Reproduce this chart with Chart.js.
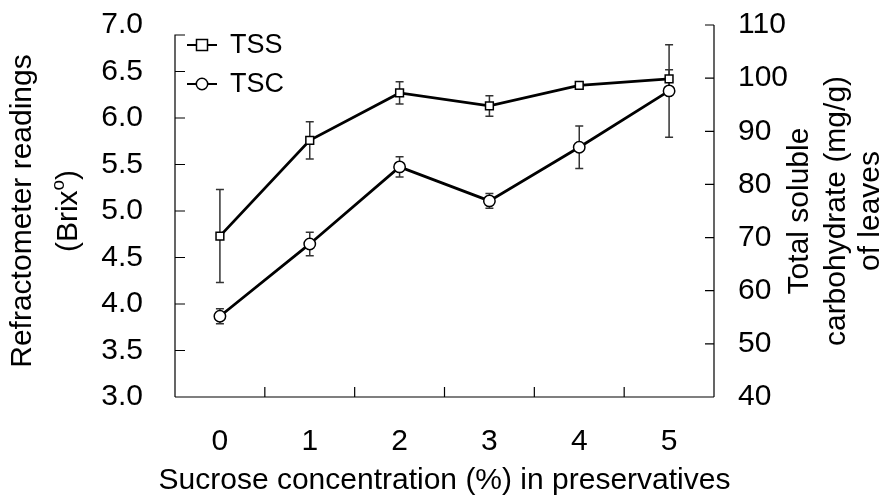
<!DOCTYPE html>
<html>
<head>
<meta charset="utf-8">
<script src="https://cdn.jsdelivr.net/npm/chart.js@4.4.0/dist/chart.umd.min.js"></script>
<style>
  html, body { margin: 0; padding: 0; background: #fff; }
  #wrap { width: 883px; height: 495px; }
</style>
</head>
<body>
<div id="wrap"><canvas id="grafico"></canvas></div>
<script>
// dados
var categorias = ["0", "1", "2", "3", "4", "5"];
var tss = [4.73, 5.76, 6.27, 6.13, 6.35, 6.42];
var tssErro = [0.50, 0.20, 0.12, 0.11, 0.02, 0.10];
var tsc = [55.2, 68.8, 83.3, 76.9, 87.0, 97.6];
var tscErro = [1.4, 2.2, 1.9, 1.4, 4.0, 8.7];
var ticksBrix = [3.0, 3.5, 4.0, 4.5, 5.0, 5.5, 6.0, 6.5, 7.0];
var ticksTsc = [40, 50, 60, 70, 80, 90, 100, 110];

var fonte = "'Liberation Sans', Arial, sans-serif";

function barrasErro(chart, idx, erros, eixo) {
    var ctx = chart.ctx;
    var meta = chart.getDatasetMeta(idx);
    var escala = chart.scales[eixo];
    var valores = chart.data.datasets[idx].data;
    ctx.save();
    ctx.strokeStyle = '#333';
    ctx.lineWidth = 1.5;
    meta.data.forEach(function (p, i) {
        var yA = escala.getPixelForValue(valores[i] + erros[i]);
        var yB = escala.getPixelForValue(valores[i] - erros[i]);
        ctx.beginPath();
        ctx.moveTo(p.x, yA); ctx.lineTo(p.x, yB);
        ctx.moveTo(p.x - 4, yA); ctx.lineTo(p.x + 4, yA);
        ctx.moveTo(p.x - 4, yB); ctx.lineTo(p.x + 4, yB);
        ctx.stroke();
    });
    ctx.restore();
}

function textoVertical(ctx, texto, x, y) {
    ctx.save();
    ctx.translate(x, y);
    ctx.rotate(-Math.PI / 2);
    ctx.textAlign = 'center';
    ctx.textBaseline = 'alphabetic';
    ctx.fillText(texto, 0, 0);
    ctx.restore();
}

function marcador(ctx, estilo, x, y) {
    ctx.save();
    ctx.fillStyle = '#fff';
    ctx.strokeStyle = '#000';
    ctx.lineWidth = 1.5;
    ctx.beginPath();
    if (estilo === 'rect') {
        ctx.rect(x - 5.5, y - 5.5, 11, 11);
    } else {
        ctx.arc(x, y, 5.7, 0, Math.PI * 2);
    }
    ctx.fill();
    ctx.stroke();
    ctx.restore();
}

function semPaddingVertical(s) {
    s.paddingTop = 0;
    s.paddingBottom = 0;
}

var extras = {
    id: 'extras',
    beforeDatasetsDraw: function (chart) {
        barrasErro(chart, 0, tssErro, 'y');
        barrasErro(chart, 1, tscErro, 'y1');
    },
    afterDraw: function (chart) {
        var ctx = chart.ctx;
        var a = chart.chartArea;
        var sx = chart.scales.x, sy = chart.scales.y, sy1 = chart.scales.y1;
        var topoEsq = a.top + 10;

        // eixos e marcas (para dentro)
        ctx.save();
        ctx.strokeStyle = '#000';
        ctx.lineWidth = 1.2;
        ctx.beginPath();
        ctx.moveTo(a.left, a.bottom); ctx.lineTo(a.right, a.bottom);
        ctx.moveTo(a.left, a.bottom); ctx.lineTo(a.left, topoEsq);
        ctx.lineTo(a.left + 10, topoEsq);
        ctx.moveTo(a.right, a.bottom); ctx.lineTo(a.right, a.top);
        sy.ticks.forEach(function (t) {
            var y = sy.getPixelForValue(t.value);
            if (y >= topoEsq) { ctx.moveTo(a.left, y); ctx.lineTo(a.left + 10, y); }
        });
        sy1.ticks.forEach(function (t) {
            var y = sy1.getPixelForValue(t.value);
            ctx.moveTo(a.right, y); ctx.lineTo(a.right - 9, y);
        });
        for (var i = 0; i < categorias.length - 1; i++) {
            var x = (sx.getPixelForValue(i) + sx.getPixelForValue(i + 1)) / 2;
            ctx.moveTo(x, a.bottom); ctx.lineTo(x, a.bottom - 10);
        }
        ctx.stroke();
        ctx.restore();

        // titulos dos eixos
        ctx.save();
        ctx.fillStyle = '#000';
        ctx.font = "30px " + fonte;
        var meioY = (a.top + a.bottom) / 2;
        textoVertical(ctx, 'Refractometer readings', 31, meioY);

        // (Brix com o sobrescrito)
        ctx.save();
        ctx.translate(77, meioY);
        ctx.rotate(-Math.PI / 2);
        ctx.textBaseline = 'alphabetic';
        ctx.font = "30px " + fonte;
        var w1 = ctx.measureText('(Brix').width;
        var w3 = ctx.measureText(')').width;
        ctx.font = "19px " + fonte;
        var w2 = ctx.measureText('o').width;
        var x0 = -(w1 + w2 + w3) / 2;
        ctx.font = "30px " + fonte;
        ctx.fillText('(Brix', x0, 0);
        ctx.font = "19px " + fonte;
        ctx.fillText('o', x0 + w1, -13);
        ctx.font = "30px " + fonte;
        ctx.fillText(')', x0 + w1 + w2, 0);
        ctx.restore();

        textoVertical(ctx, 'Total soluble', 808, meioY);
        textoVertical(ctx, 'carbohydrate (mg/g)', 845, meioY);
        textoVertical(ctx, 'of leaves', 879, meioY);

        ctx.textAlign = 'center';
        ctx.textBaseline = 'alphabetic';
        ctx.fillText('Sucrose concentration (%) in preservatives', (a.left + a.right) / 2, 489);

        // legenda
        ctx.font = "27px " + fonte;
        ctx.textAlign = 'left';
        ctx.textBaseline = 'middle';
        var estilos = ['rect', 'circle'];
        chart.data.datasets.forEach(function (ds, k) {
            var ly = a.top + 20 + k * 39;
            var lx = a.left + 12;
            ctx.strokeStyle = '#000';
            ctx.lineWidth = 2;
            ctx.beginPath();
            ctx.moveTo(lx, ly); ctx.lineTo(lx + 30, ly);
            ctx.stroke();
            marcador(ctx, estilos[k], lx + 15, ly);
            ctx.fillStyle = '#000';
            ctx.fillText(ds.label, lx + 43, ly + 1);
        });
        ctx.restore();
    }
};

new Chart(document.getElementById('grafico'), {
    type: 'line',
    data: {
        labels: categorias,
        datasets: [
            {
                label: 'TSS',
                data: tss,
                yAxisID: 'y',
                borderColor: '#000',
                borderWidth: 2.8,
                pointStyle: 'rect',
                pointRadius: 5.5,
                pointBackgroundColor: '#fff',
                pointBorderColor: '#000',
                pointBorderWidth: 1.5,
                tension: 0
            }, {
                label: 'TSC',
                data: tsc,
                yAxisID: 'y1',
                borderColor: '#000',
                borderWidth: 2.8,
                pointStyle: 'circle',
                pointRadius: 5.7,
                pointBackgroundColor: '#fff',
                pointBorderColor: '#000',
                pointBorderWidth: 1.5,
                tension: 0
            }
        ]
    },
    options: {
        responsive: true,
        maintainAspectRatio: false,
        animation: false,
        layout: { padding: { top: 25, left: 0, right: 0, bottom: 0 } },
        plugins: {
            legend: { display: false },
            tooltip: { enabled: false }
        },
        scales: {
            x: {
                type: 'category',
                offset: true,
                grid: { display: false, drawTicks: false },
                border: { display: false },
                ticks: { color: '#000', font: { family: fonte, size: 30 }, padding: 27 },
                afterFit: function (s) { s.height = 98; s.paddingLeft = 0; s.paddingRight = 0; }
            },
            y: {
                position: 'left',
                min: 3, max: 7,
                grid: { display: false, drawTicks: false },
                border: { display: false },
                afterBuildTicks: function (s) {
                    s.ticks = ticksBrix.map(function (v) { return { value: v }; });
                },
                ticks: {
                    color: '#000', font: { family: fonte, size: 30 }, padding: 32,
                    callback: function (v) { return Number(v).toFixed(1); }
                },
                afterFit: function (s) { s.width = 175; semPaddingVertical(s); }
            },
            y1: {
                position: 'right',
                min: 40, max: 110,
                grid: { display: false, drawTicks: false },
                border: { display: false },
                afterBuildTicks: function (s) {
                    s.ticks = ticksTsc.map(function (v) { return { value: v }; });
                },
                ticks: { color: '#000', font: { family: fonte, size: 30 }, padding: 24 },
                afterFit: function (s) { s.width = 169; semPaddingVertical(s); }
            }
        }
    },
    plugins: [extras]
});
</script>
</body>
</html>
